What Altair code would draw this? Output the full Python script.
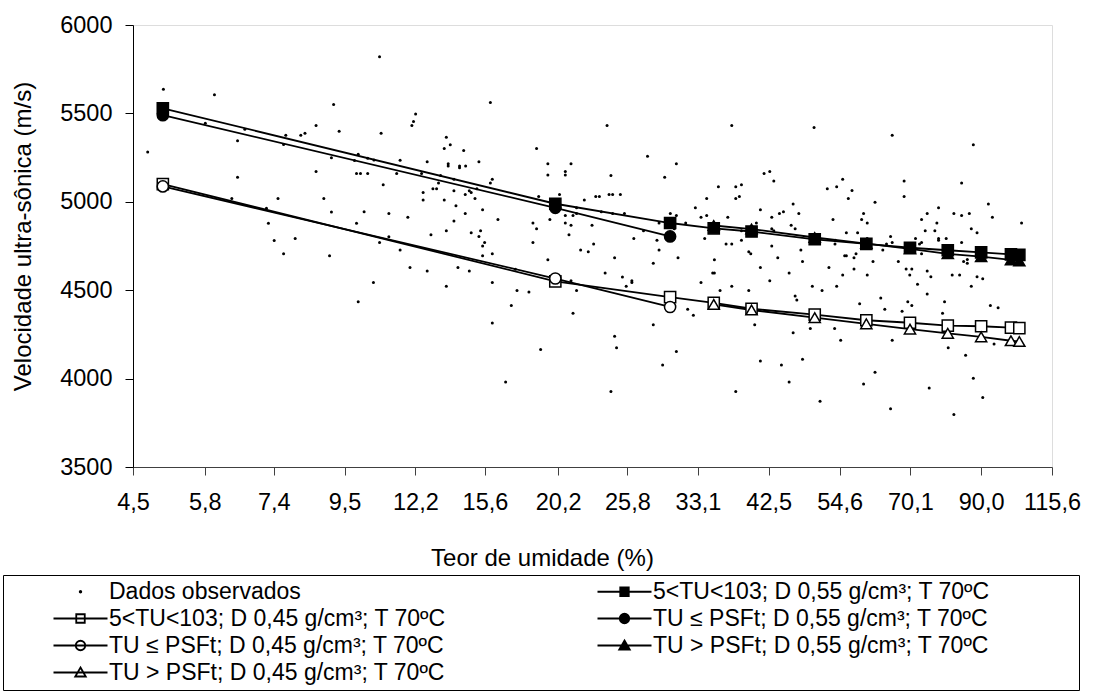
import altair as alt
import pandas as pd

FONT = "Liberation Sans"

# ---------------- axis ticks ----------------
tu_tick_labels = ["4,5", "5,8", "7,4", "9,5", "12,2", "15,6", "20,2", "25,8",
                  "33,1", "42,5", "54,6", "70,1", "90,0", "115,6"]
v_ticks = [3500, 4000, 4500, 5000, 5500, 6000]

# ---------------- legend / series names ----------------
series_labels = [
    "Dados observados",
    "5<TU<103; D 0,55 g/cm³; T 70ºC",
    "5<TU<103; D 0,45 g/cm³; T 70ºC",
    "TU ≤ PSFt; D 0,55 g/cm³; T 70ºC",
    "TU ≤ PSFt; D 0,45 g/cm³; T 70ºC",
    "TU > PSFt; D 0,55 g/cm³; T 70ºC",
    "TU > PSFt;  D 0,45 g/cm³; T 70ºC",
]

# ---------------- observed data (moisture %, velocity m/s) ----------------
obs_tu = [
    5.01, 6.00, 9.14, 5.81, 6.68, 7.72, 8.14, 8.26, 8.59, 9.32, 6.51, 7.66, 4.74, 9.07, 9.97, 9.84,
    6.51, 8.59, 9.91, 10.05, 6.38, 7.51, 8.83, 7.21, 9.07, 7.26, 9.91, 7.41, 7.98, 7.66, 9.01, 9.97,
    10.75, 15.90, 12.21, 12.12, 12.05, 10.81, 13.61, 13.80, 13.51, 14.47, 18.72,
    10.31, 10.54, 11.56, 12.72, 13.70, 13.70, 14.26, 14.26, 14.57, 15.27,
    19.48, 21.14, 20.72, 20.72, 19.48,
    10.31, 11.42, 12.47, 13.34, 13.98, 16.01, 13.24, 15.90,
    10.89, 12.98, 13.15, 13.98, 15.16, 14.76, 14.86, 14.55, 12.54, 12.54, 13.51, 15.06, 18.86, 20.30, 22.16,
    14.08, 15.47, 14.55, 10.18, 11.11, 11.88, 16.33, 19.62, 20.72, 21.29, 21.56, 21.56,
    13.98, 18.48, 20.72, 21.14, 22.77, 18.72,
    13.61, 14.86, 15.36, 12.89, 15.27, 20.99,
    11.11, 10.75, 15.58, 15.47, 18.48, 22.90,
    11.56, 21.87, 22.47,
    15.47, 16.01,
    19.48,
    11.97, 12.72, 14.18, 14.76, 17.37,
    10.52, 13.61, 16.01, 21.14, 21.56, 17.47, 18.22,
    17.12, 21.29,
    16.01,
    18.99,
    16.78,
    24.01, 37.30, 49.88,
    27.70, 30.67,
    24.34, 29.43, 41.81, 42.66, 43.27,
    35.58, 37.83, 38.60, 37.83, 38.32, 34.14,
    23.07, 23.37, 24.18, 24.49, 25.17,
    46.33, 32.80, 41.27,
    23.53, 24.49, 25.53, 30.02, 30.67, 33.46, 34.14, 36.78, 42.96, 44.14, 44.77, 47.27,
    28.85, 31.70, 40.69, 46.01, 46.66, 42.96, 43.27,
    27.31, 30.45, 38.60,
    26.39, 28.64, 33.90, 36.56, 37.30, 38.60,
    28.85, 39.61, 39.89, 42.96, 47.61,
    24.66, 30.85, 35.08, 43.88, 47.89,
    28.27, 41.27,
    23.85, 34.87, 35.08, 45.68,
    25.35, 26.21, 26.21, 25.69, 33.46, 42.66,
    37.30, 35.79, 39.61, 49.58, 51.31,
    46.66, 46.94,
    31.92, 32.57,
    28.27, 40.45,
    49.23, 46.33,
    24.66, 24.83,
    30.67, 47.89, 41.27, 44.45, 29.22,
    45.68, 24.34, 37.83, 50.95,
    65.74, 87.55,
    55.19, 52.27, 54.03, 57.04, 56.30, 68.56, 68.56, 84.00,
    61.87, 92.33,
    53.33, 59.42, 59.01, 60.19, 72.92, 74.39, 76.97, 77.43, 81.74, 84.00, 86.32, 93.65, 103.82,
    55.91, 58.18, 73.87, 76.43, 86.93, 88.71,
    53.77, 53.71, 60.19, 65.36, 65.74, 64.43, 63.59, 71.38, 72.92, 72.40, 77.43, 77.43, 79.55, 84.00, 57.85,
    55.58, 55.91, 57.44, 61.43, 67.18, 72.92, 84.60, 85.71, 85.71,
    52.57, 57.44, 69.05, 70.45, 74.39, 69.95, 75.36, 81.26, 83.41, 88.71, 90.51,
    55.19, 60.19,
    54.03, 71.89, 86.93,
    74.39, 63.14, 79.09, 58.60, 64.04, 68.07, 69.46, 70.45, 78.53, 92.99, 95.56,
    53.64, 54.80, 65.74, 80.12, 94.21, 85.20,
    61.87, 59.42, 74.92, 87.55, 90.51,
    65.36, 81.74,
]
obs_v = [
    5636, 5605, 5550, 5444, 5410, 5377, 5377, 5388, 5431, 5399, 5345, 5324, 5281, 5249, 5269, 5234,
    5139, 5171, 5160, 5160, 5019, 5019, 5019, 4964, 4943, 4879, 4879, 4781, 4793, 4706, 4695, 4435,
    5821, 5561, 5497, 5454, 5431, 5388, 5365, 5322, 5301, 5290, 5301,
    5247, 5237, 5235, 5226, 5215, 5203, 5203, 5192, 5203, 5226,
    5215, 5215, 5171, 5151, 5151,
    5160, 5160, 5160, 5149, 5128, 5128, 5107, 5106,
    5096, 5074, 5074, 5062, 5074, 5062, 5053, 5041, 5053, 5010, 5010, 5019, 5030, 5041, 5010,
    4978, 4955, 4934, 4944, 4934, 4912, 4900, 4900, 4923, 4923, 4934, 4966,
    4891, 4880, 4880, 4868, 4868, 4848,
    4836, 4825, 4836, 4814, 4804, 4814,
    4802, 4770, 4770, 4750, 4770, 4761,
    4727, 4727, 4718,
    4695, 4706,
    4672,
    4629, 4608, 4629, 4608, 4618,
    4543, 4522, 4543, 4554, 4499, 4499, 4490,
    4413, 4369,
    4315,
    4164,
    3981,
    5431, 5431, 5420,
    5258, 5215,
    5149, 5139, 5160, 5171, 5117,
    5085, 5085, 5096, 5019, 5030, 5019,
    5030, 5030, 5041, 5041, 5041,
    4987, 4966, 4955,
    4944, 4934, 4934, 4934, 4923, 4912, 4923, 4912, 4912, 4934, 4944, 4934,
    4880, 4880, 4880, 4868, 4848, 4848, 4836,
    4836, 4848, 4836,
    4793, 4782, 4793, 4761, 4761, 4782,
    4727, 4718, 4706, 4750, 4727,
    4684, 4684, 4672, 4684, 4663,
    4652, 4629,
    4597, 4597, 4597, 4597,
    4574, 4554, 4543, 4522, 4543, 4554,
    4522, 4499, 4499, 4522, 4499,
    4467, 4445,
    4392, 4358,
    4305, 4305,
    4283, 4260,
    4239, 4175,
    4153, 4109, 4100, 4077, 4077,
    3981, 3927, 3927, 3872,
    5377, 5322,
    5128, 5074, 5085, 5064, 5019, 5117, 5030, 5106,
    4998, 4987,
    4900, 4934, 4900, 4880, 4900, 4934, 4880, 4966, 4934, 4923, 4934, 4912, 4880,
    4825, 4825, 4836, 4836, 4848, 4825,
    4782, 4761, 4793, 4804, 4770, 4761, 4727, 4793, 4770, 4761, 4793, 4782, 4793, 4770, 4706,
    4695, 4695, 4684, 4663, 4663, 4706, 4663, 4674, 4652,
    4629, 4620, 4620, 4620, 4608, 4586, 4576, 4586, 4586, 4576, 4565,
    4586, 4586,
    4522, 4533, 4522,
    4478, 4456, 4435, 4424, 4392, 4381, 4435, 4413, 4369, 4413, 4401,
    4283, 4217, 4217, 4175, 4196, 4132,
    4036, 3970, 3947, 4002, 3893,
    3829, 3797,
]

# ---------------- model curves ----------------
sq55_tu = [5, 20, 30, 35, 40, 50, 60, 70, 80, 90, 100, 103]
sq55_v = [5529, 4989, 4880, 4850, 4832, 4788, 4762, 4740, 4726, 4714, 4703, 4700]
sq45_tu = [5, 20, 30, 35, 40, 50, 60, 70, 80, 90, 100, 103]
sq45_v = [5100, 4550, 4461, 4428, 4395, 4362, 4330, 4316, 4300, 4296, 4288, 4286]
ci55_tu = [5, 20, 30]
ci55_v = [5490, 4966, 4804]
ci45_tu = [5, 20, 30]
ci45_v = [5087, 4566, 4405]
tr55_tu = [35, 40, 50, 60, 70, 80, 90, 100, 103]
tr55_v = [4866, 4846, 4798, 4764, 4734, 4706, 4690, 4672, 4665]
tr45_tu = [35, 40, 50, 60, 70, 80, 90, 100, 103]
tr45_v = [4420, 4388, 4345, 4310, 4280, 4256, 4236, 4214, 4210]

model_tu = [sq55_tu, sq45_tu, ci55_tu, ci45_tu, tr55_tu, tr45_tu]
model_v = [sq55_v, sq45_v, ci55_v, ci45_v, tr55_v, tr45_v]
model_names = series_labels[1:]

# ---------------- styles ----------------
marker_shapes = ["square", "square", "circle", "circle", "triangle-up", "triangle-up"]
marker_fills = ["black", "white", "black", "white", "black", "white"]

LINE = "M-5.4,0H5.4"
SQ = "M-0.85,-0.85H0.85V0.85H-0.85Z"
CI = "M-0.95,0A0.95,0.95 0 1,0 0.95,0A0.95,0.95 0 1,0 -0.95,0Z"
TR = "M0,-1L1.05,0.8H-1.05Z"
DOT = "M-0.15,0A0.15,0.15 0 1,0 0.15,0A0.15,0.15 0 1,0 -0.15,0Z"
legend_shapes = [DOT, LINE + SQ, LINE + SQ, LINE + CI, LINE + CI, LINE + TR, LINE + TR]
legend_fills = ["black", "black", "white", "black", "white", "black", "white"]

# ---------------- tables ----------------
obs = pd.DataFrame({"tu": obs_tu, "v": obs_v})
model = pd.concat(
    [pd.DataFrame({"tu": t, "v": v, "serie": n}) for t, v, n in zip(model_tu, model_v, model_names)],
    ignore_index=True,
)
leg = pd.DataFrame({
    "tu": [obs_tu[0]] + [t[0] for t in model_tu],
    "v": [obs_v[0]] + [v[0] for v in model_v],
    "Legenda": series_labels,
})

tu_ticks = [float(s.replace(",", ".")) for s in tu_tick_labels]

x_scale = alt.Scale(type="log", domain=[tu_ticks[0], tu_ticks[-1]], nice=False)
y_scale = alt.Scale(domain=[v_ticks[0], v_ticks[-1]], nice=False, zero=False)

x_axis = alt.Axis(
    values=tu_ticks,
    labelExpr="replace(format(datum.value, '.1f'), '.', ',')",
    title="Teor de umidade (%)",
    grid=False, domainColor="#404040", tickColor="#404040", tickSize=8,
    labelFont=FONT, labelFontSize=23.5, labelColor="black", labelPadding=15,
    labelFlush=False, labelOverlap=False,
    titleFont=FONT, titleFontSize=24, titleFontWeight="normal", titleColor="black",
    titleX=409, titleY=91, titleBaseline="middle", titleAlign="center",
)
y_axis = alt.Axis(
    values=v_ticks, format="d",
    title="Velocidade ultra-sônica (m/s)",
    grid=False, domainColor="black", tickColor="black", tickSize=8,
    labelFont=FONT, labelFontSize=23.5, labelColor="black", labelPadding=13,
    titleFont=FONT, titleFontSize=24, titleFontWeight="normal", titleColor="black",
    titleX=-110, titleY=211, titleBaseline="middle", titleAlign="center",
)

X = alt.X("tu:Q", scale=x_scale, axis=x_axis)
Y = alt.Y("v:Q", scale=y_scale, axis=y_axis)

scatter = alt.Chart(obs).mark_circle(size=9, color="black", opacity=1).encode(x=X, y=Y)

lines = alt.Chart(model).mark_line(color="black", strokeWidth=1.8).encode(
    x="tu:Q", y="v:Q", detail="serie:N", order="tu:Q"
)

markers = alt.Chart(model).mark_point(
    size=125, filled=True, stroke="black", strokeWidth=1.5, opacity=1
).encode(
    x="tu:Q", y="v:Q",
    shape=alt.Shape("serie:N", scale=alt.Scale(domain=model_names, range=marker_shapes), legend=None),
    fill=alt.Fill("serie:N", scale=alt.Scale(domain=model_names, range=marker_fills), legend=None),
)

# trailing no-break spaces (kept by a final zero-width char) widen the framed legend box on the right
legend_def = alt.Legend(
    orient="none", legendX=-130, legendY=550, direction="horizontal",
    columns=2, columnPadding=58, rowPadding=3, padding=5,
    strokeColor="black", fillColor="white",
    title=" ", titleOrient="left", titleFontSize=1, titlePadding=61,
    labelFont=FONT, labelFontSize=23, labelColor="black", labelOffset=17, labelLimit=2000,
    labelExpr="datum.label + '" + "\u00a0" * 13 + "\u200b'",
    symbolSize=100, symbolOpacity=1, symbolFillColor="black",
    symbolStrokeColor="black", symbolStrokeWidth=1.8,
)

legend_layer = alt.Chart(leg).mark_point(
    size=100, filled=True, stroke="black", strokeWidth=1.8, opacity=0
).encode(
    x="tu:Q", y="v:Q",
    shape=alt.Shape("Legenda:N", scale=alt.Scale(domain=series_labels, range=legend_shapes), legend=legend_def),
    fill=alt.Fill("Legenda:N", scale=alt.Scale(domain=series_labels, range=legend_fills), legend=legend_def),
)

chart = alt.layer(scatter, lines, markers, legend_layer).resolve_scale(
    shape="independent", fill="independent"
).properties(
    width=919, height=442,
    autosize=alt.AutoSizeParams(type="none"),
    padding={"left": 133, "top": 25, "right": 48, "bottom": 227},
).configure_view(stroke=None).configure(font=FONT)

chart.save("out.html", embed_options={"renderer": "svg", "actions": False})
